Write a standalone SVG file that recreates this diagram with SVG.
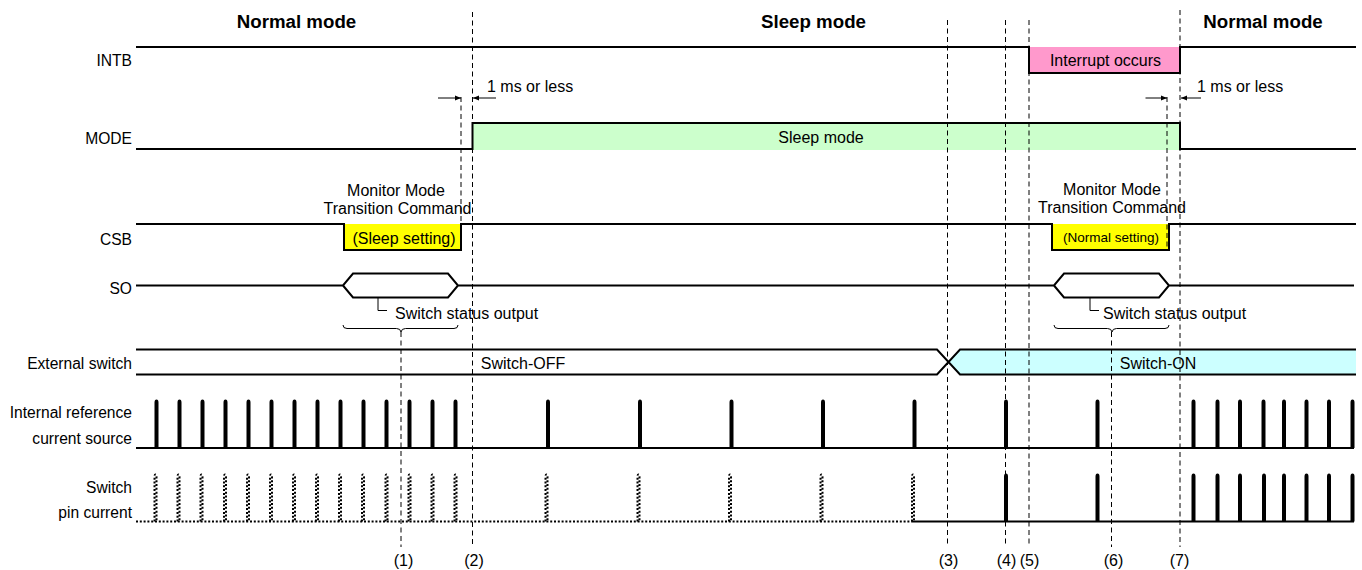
<svg xmlns="http://www.w3.org/2000/svg" xmlns:xlink="http://www.w3.org/1999/xlink" width="1362" height="570" viewBox="0 0 1362 570">
<style>
text{font-family:"Liberation Sans",Arial,sans-serif;font-size:16px;fill:#000}
.b{font-weight:bold;font-size:18.7px}
.lbl{text-anchor:end;font-size:15.6px}
.c{text-anchor:middle}
.sig{fill:none;stroke:#000;stroke-width:2;stroke-linejoin:miter}
.thin{fill:none;stroke:#000;stroke-width:1}
.dash{fill:none;stroke:#000;stroke-width:1;stroke-dasharray:5 3.5}
.dot{fill:none;stroke:#000;stroke-width:2;stroke-dasharray:2 1.8}
</style>
<defs>
<marker id="ah" markerWidth="6" markerHeight="6" refX="6" refY="3" orient="auto" markerUnits="userSpaceOnUse"><path d="M0,0.5 L6,3 L0,5.5 z" fill="#000"/></marker>
<path id="pi" class="sig" d="M-1,448 V402.5 Q-1,400.5 0,400.5 Q1,400.5 1,402.5 V448"/>
<path id="ps" class="sig" d="M-1,521.5 V476.5 Q-1,474.5 0,474.5 Q1,474.5 1,476.5 V521.5"/>
<path id="pd" class="dot" d="M-1,521.5 V476.5 Q-1,474.5 0,474.5 Q1,474.5 1,476.5 V521.5"/>
</defs>
<rect width="1362" height="570" fill="#fff"/>

<g id="headers">
<text class="b c" x="296.5" y="28">Normal mode</text>
<text class="b c" x="813.5" y="28">Sleep mode</text>
<text class="b c" x="1263" y="28">Normal mode</text>
</g>

<g id="INTB">
<text class="lbl" x="132" y="66">INTB</text>
<rect x="1029" y="47" width="151" height="26.5" fill="#FF99CC"/>
<path class="sig" d="M136,47 H1029 V73 H1180 V47 H1356"/>
<text class="c" x="1105.5" y="65.5">Interrupt occurs</text>
</g>

<g id="MODE">
<text class="lbl" x="132" y="143.5">MODE</text>
<rect x="472.5" y="123" width="707.5" height="27" fill="#CCFFCC"/>
<path class="sig" d="M136,149 H472.5 V123 H1180 V149 H1356"/>
<text class="c" x="821" y="143">Sleep mode</text>
</g>

<g id="CSB">
<text class="lbl" x="132" y="244.5">CSB</text>
<rect x="344" y="224" width="117" height="26" fill="#FFFF00"/>
<rect x="1052" y="224" width="117" height="26" fill="#FFFF00"/>
<path class="sig" d="M136,224 H344 V250 H461 V224 H1052 V250 H1169 V224 H1356"/>
<text class="c" x="404" y="243.5">(Sleep setting)</text>
<text class="c" x="1111" y="242" style="font-size:13.5px">(Normal setting)</text>
<text class="c" x="396" y="196">Monitor Mode</text>
<text class="c" x="397.5" y="213.5">Transition Command</text>
<text class="c" x="1112" y="195">Monitor Mode</text>
<text class="c" x="1112" y="212.5">Transition Command</text>
</g>

<g id="SO">
<text class="lbl" x="132" y="293.5">SO</text>
<path class="sig" d="M136,285.5 H343 L353,273.5 H448 L458,285.5 L448,297.5 H353 L343,285.5 M458,285.5 H1054 L1064,273.5 H1159 L1169,285.5 L1159,297.5 H1064 L1054,285.5 M1169,285.5 H1354"/>
<path class="thin" d="M378,297.5 V310.5 H387 M1090,297.5 V310.5 H1099"/>
<text x="395" y="318.5">Switch status output</text>
<text x="1103" y="318.5">Switch status output</text>
<path class="thin" d="M343,325 Q343,328.5 347,328.5 H396.5 Q400.5,328.5 401,332 Q401.5,328.5 405.5,328.5 H454 Q458,328.5 458,325"/>
<path class="thin" d="M1054,325 Q1054,328.5 1058,328.5 H1107.5 Q1111.5,328.5 1112,332 Q1112.5,328.5 1116.5,328.5 H1165 Q1169,328.5 1169,325"/>
</g>

<g id="ExternalSwitch">
<text class="lbl" x="132" y="369">External switch</text>
<path d="M960,349.5 H1356 V374.5 H960 L948,362 z" fill="#CCFFFF"/>
<path class="sig" d="M136,349.5 H937 L960,374.5 H1356 M136,374.5 H937 L960,349.5 H1356"/>
<text class="c" x="523" y="369">Switch-OFF</text>
<text class="c" x="1158" y="369">Switch-ON</text>
</g>

<g id="InternalReference">
<text class="lbl" x="132" y="418">Internal reference</text>
<text class="lbl" x="132" y="443.5">current source</text>
<path class="sig" d="M136,448 H1354"/>
<use xlink:href="#pi" x="156.5"/><use xlink:href="#pi" x="179.5"/><use xlink:href="#pi" x="202.5"/><use xlink:href="#pi" x="225.5"/><use xlink:href="#pi" x="248.5"/><use xlink:href="#pi" x="271.5"/><use xlink:href="#pi" x="294.5"/><use xlink:href="#pi" x="317.5"/><use xlink:href="#pi" x="340.5"/><use xlink:href="#pi" x="363.5"/><use xlink:href="#pi" x="386.5"/><use xlink:href="#pi" x="409.5"/><use xlink:href="#pi" x="432.5"/><use xlink:href="#pi" x="455.5"/>
<use xlink:href="#pi" x="548"/><use xlink:href="#pi" x="640"/><use xlink:href="#pi" x="731.5"/><use xlink:href="#pi" x="823"/><use xlink:href="#pi" x="914.5"/><use xlink:href="#pi" x="1006"/><use xlink:href="#pi" x="1097.5"/>
<use xlink:href="#pi" x="1193.5"/><use xlink:href="#pi" x="1217.5"/><use xlink:href="#pi" x="1240"/><use xlink:href="#pi" x="1263.5"/><use xlink:href="#pi" x="1284"/><use xlink:href="#pi" x="1306.5"/><use xlink:href="#pi" x="1329"/><use xlink:href="#pi" x="1352.5"/>
</g>

<g id="SwitchPinCurrent">
<text class="lbl" x="132" y="492.5">Switch</text>
<text class="lbl" x="132" y="517.5">pin current</text>
<path class="dot" d="M136,521.5 H913"/>
<path class="sig" d="M913,521.5 H1354"/>
<use xlink:href="#pd" x="155.5"/><use xlink:href="#pd" x="178.5"/><use xlink:href="#pd" x="201.5"/><use xlink:href="#pd" x="225"/><use xlink:href="#pd" x="248"/><use xlink:href="#pd" x="271"/><use xlink:href="#pd" x="294"/><use xlink:href="#pd" x="317"/><use xlink:href="#pd" x="340"/><use xlink:href="#pd" x="363"/><use xlink:href="#pd" x="386.5"/><use xlink:href="#pd" x="409.5"/><use xlink:href="#pd" x="432.5"/><use xlink:href="#pd" x="455.5"/>
<use xlink:href="#pd" x="546.5"/><use xlink:href="#pd" x="638.5"/><use xlink:href="#pd" x="730"/><use xlink:href="#pd" x="821.5"/><use xlink:href="#pd" x="913"/>
<use xlink:href="#ps" x="1006"/><use xlink:href="#ps" x="1097.5"/>
<use xlink:href="#ps" x="1193.5"/><use xlink:href="#ps" x="1217.5"/><use xlink:href="#ps" x="1240"/><use xlink:href="#ps" x="1264"/><use xlink:href="#ps" x="1284"/><use xlink:href="#ps" x="1306.5"/><use xlink:href="#ps" x="1329"/><use xlink:href="#ps" x="1352.5"/>
</g>

<g id="connectors">
<path class="dash" d="M401,332 V547"/>
<path class="dash" d="M472.5,12 V547"/>
<path class="dash" d="M947.5,20 V547"/>
<path class="dash" d="M1005.5,20 V547"/>
<path class="dash" d="M1029,20 V547"/>
<path class="dash" d="M1111.5,332 V547"/>
<path class="dash" d="M1180,10 V547"/>
<path class="dash" d="M461,97 V250"/>
<path class="dash" d="M1167,97 V250"/>
<path class="thin" d="M438,98 H461" marker-end="url(#ah)"/>
<path class="thin" d="M496,98 H473" marker-end="url(#ah)"/>
<path class="thin" d="M1145.5,98 H1167" marker-end="url(#ah)"/>
<path class="thin" d="M1201,98 H1181" marker-end="url(#ah)"/>
<text x="487" y="92">1 ms or less</text>
<text x="1197" y="92">1 ms or less</text>
</g>

<g id="markers">
<text class="c" x="403.5" y="565.5">(1)</text>
<text class="c" x="474" y="565.5">(2)</text>
<text class="c" x="948.5" y="565.5">(3)</text>
<text class="c" x="1006.5" y="565.5">(4)</text>
<text class="c" x="1029.5" y="565.5">(5)</text>
<text class="c" x="1113.5" y="565.5">(6)</text>
<text class="c" x="1179.5" y="565.5">(7)</text>
</g>
</svg>
